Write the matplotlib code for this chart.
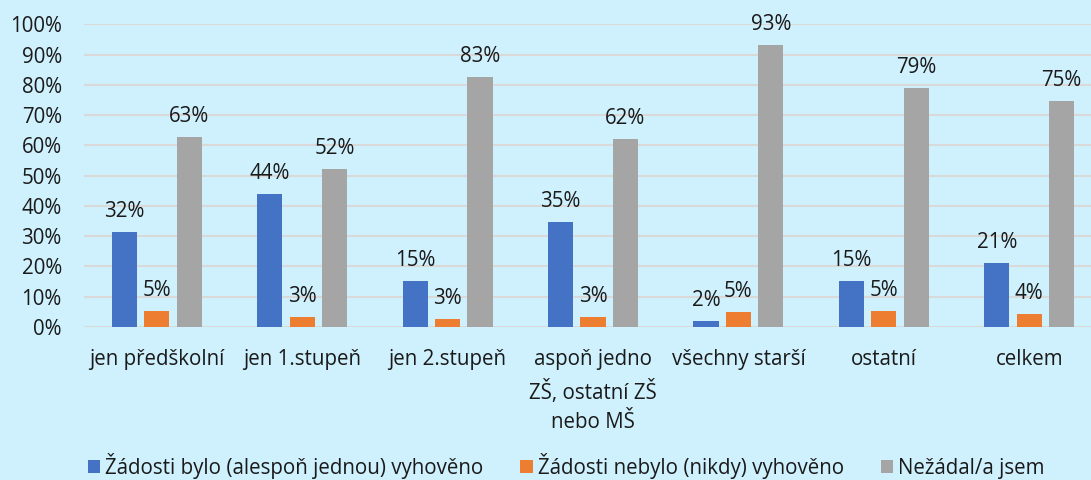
import matplotlib.pyplot as plt
import numpy as np

plt.rcParams['font.family'] = ['Open Sans', 'DejaVu Sans']

# data (percent)
categories = ["jen předškolní", "jen 1.stupeň", "jen 2.stupeň",
              "aspoň jedno\nZŠ, ostatní ZŠ\nnebo MŠ", "všechny starší",
              "ostatní", "celkem"]
vyhoveno = [31.5, 44.1, 15.2, 34.7, 1.8, 15.3, 21.0]
nevyhoveno = [5.4, 3.4, 2.6, 3.4, 4.8, 5.4, 4.2]
nezadal = [62.8, 52.3, 82.6, 62.0, 93.3, 79.0, 74.7]
series_names = ["Žádosti bylo (alespoň jednou) vyhověno",
                "Žádosti nebylo (nikdy) vyhověno",
                "Nežádal/a jsem"]
colors = ["#4472C4", "#ED7D31", "#A5A5A5"]

bg = "#CFF1FD"
fs = 14.8
txt = "#1a1a1a"
fig = plt.figure(figsize=(10.91, 4.80), dpi=100, facecolor=bg)
ax = fig.add_axes([84 / 1091, 0.319, (1102 - 84) / 1091, 0.63])
ax.set_facecolor(bg)

x = np.arange(len(categories))
width = 0.172
step = 0.223
for i, (vals, name, col) in enumerate(zip([vyhoveno, nevyhoveno, nezadal], series_names, colors)):
    pos = x + (i - 1) * step
    ax.bar(pos, vals, width, color=col, label=name, zorder=2)
    for p, v in zip(pos, vals):
        ax.text(p, v + 3.3, f"{v:.0f}%", ha="center", va="bottom", fontsize=fs, color=txt)

ax.set_xlim(-0.5, len(categories) - 0.5)
ax.set_ylim(0, 100)
ax.set_yticks(range(0, 101, 10))
ax.set_yticklabels([f"{t}%" for t in range(0, 101, 10)], fontsize=fs, color=txt)
ax.set_xticks(x)
ax.set_xticklabels(categories, fontsize=fs, color=txt, linespacing=1.5)
ax.tick_params(axis="both", length=0)
ax.tick_params(axis="y", pad=16)
ax.tick_params(axis="x", pad=16)
ax.grid(axis="y", color="#D9D9D9", linewidth=1.5, zorder=0)
ax.set_axisbelow(True)
for s in ax.spines.values():
    s.set_visible(False)

fig.legend(loc="lower left", bbox_to_anchor=(69 / 1091, -0.036), ncol=3, frameon=False,
           fontsize=fs, handlelength=0.6, handleheight=0.6, handletextpad=0.25,
           columnspacing=1.8, labelcolor=txt)

fig.savefig("out.png", dpi=100, facecolor=bg)
